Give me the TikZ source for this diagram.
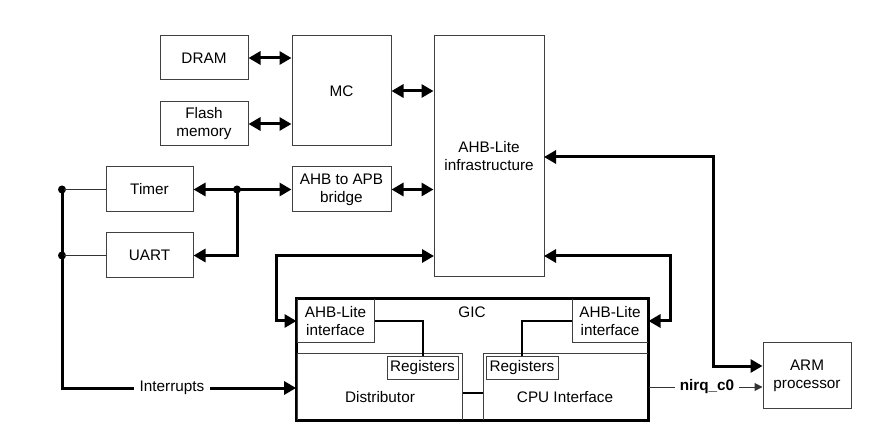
\documentclass[tikz,border=0pt]{standalone}
\usepackage{fontspec}
\setmainfont{Liberation Sans}
\usetikzlibrary{arrows.meta,calc}
\begin{document}
\begin{tikzpicture}[x=1pt,y=-1pt,
  >={Triangle[length=12pt,width=13pt]},
  box/.style={draw=black!75,line width=1pt,rectangle,inner sep=0pt,align=center,font=\fontsize{15.3}{18}\selectfont},
  lbl/.style={inner sep=1pt,font=\fontsize{15.3}{18}\selectfont},
  bus/.style={line width=3pt,draw=black},
  thin/.style={line width=1pt,draw=black!80},
  dot/.style={circle,fill=black,inner sep=0pt,minimum size=8pt}]
\useasboundingbox (0,0) rectangle (873,430);
% boxes
\node[box,minimum width=88pt,minimum height=44pt] (dram) at (204,58) {DRAM};
\node[box,minimum width=88pt,minimum height=44pt] (flash) at (204,124) {Flash\\memory};
\node[box,minimum width=99pt,minimum height=110pt] (mc) at (341.5,91) {MC};
\node[box,minimum width=110pt,minimum height=241pt] (ahb) at (489,156.5) {AHB-Lite\\infrastructure};
\node[box,minimum width=87pt,minimum height=45pt] (timer) at (149.5,189.5) {Timer};
\node[box,minimum width=99pt,minimum height=45pt] (bridge) at (341.5,189.5) {AHB to APB\\bridge};
\node[box,minimum width=87pt,minimum height=45pt] (uart) at (149.5,255.5) {UART};
\node[box,minimum width=88pt,minimum height=65pt] (arm) at (807,375.5) {ARM\\processor};
% GIC
\node[draw=black,line width=1.8pt,minimum width=351pt,minimum height=121pt,inner sep=0pt] (gic) at (472.5,359.5) {};
\node[lbl] (giclbl) at (472,312) {GIC};
\node[box,minimum width=77pt,minimum height=44pt] (ahbl) at (335.5,321) {AHB-Lite\\interface};
\node[box,minimum width=76pt,minimum height=44pt] (ahbr) at (610,321) {AHB-Lite\\interface};
\node[box,minimum width=165pt,minimum height=66pt] (dist) at (379.5,387) {};
\node[box,minimum width=165pt,minimum height=66pt] (cpu) at (565.5,387) {};
\node[lbl] (distlbl) at (380,397) {Distributor};
\node[lbl] (cpulbl) at (565,397) {CPU Interface};
\node[box,minimum width=71pt,minimum height=22pt] (regd) at (422.5,368) {Registers};
\node[box,minimum width=72pt,minimum height=22pt] (regc) at (522,368) {Registers};
\draw[draw=black,line width=1.8pt] (gic.north west) rectangle (gic.south east);
% bus connections top
\draw[bus,<->] (dram.east) -- (dram.east -| mc.west);
\draw[bus,<->] (flash.east) -- (flash.east -| mc.west);
\draw[bus,<->] (mc.east) -- (mc.east -| ahb.west);
\draw[bus,<->] (bridge.east) -- (bridge.east -| ahb.west);
\node[dot] (jt) at (237,189.5) {};
\draw[bus,<->] (timer.east) -- (bridge.west);
\draw[bus,->] (jt.center) |- (uart.east);
% left interrupt bus
\node[dot] (d1) at (62,189.5) {};
\node[dot] (d2) at (62,255.5) {};
\draw[thin] (d1.center) -- (timer.west);
\draw[thin] (d2.center) -- (uart.west);
\node[lbl,inner xsep=5pt] (intl) at (172,388) {Interrupts};
\draw[bus] (d1.center) |- (intl.west);
\draw[bus,->] (intl.east) -- (intl.east -| gic.west);
% AHB to GIC interfaces
\coordinate (al) at (434,256);
\coordinate (ar) at (544,256);
\coordinate (aa) at (544,157);
\draw[bus,<->] (al) -- (276,256) |- (ahbl.west);
\draw[bus,<->] (ar) -- (670,256) |- (ahbr.east);
\draw[bus,<->] (aa) -- (713,157) |- (arm.west |- 0,366);
% inner GIC lines
\draw[line width=2.2pt] (ahbl.east) -| (423,0 |- regd.north);
\draw[line width=2.2pt] (ahbr.west) -| (regc.north);
\draw[line width=2.2pt] (dist.east |- 0,393) -- (cpu.west |- 0,393);
% nirq
\node[lbl,inner xsep=5pt,font=\fontsize{15.3}{18}\selectfont\bfseries] (nirq) at (707,387) {nirq\_c0};
\draw[thin] (cpu.east |- nirq) -- (nirq.west);
\draw[thin,-{Triangle[length=8pt,width=8pt]}] (nirq.east) -- (nirq -| arm.west);
\end{tikzpicture}
\end{document}
